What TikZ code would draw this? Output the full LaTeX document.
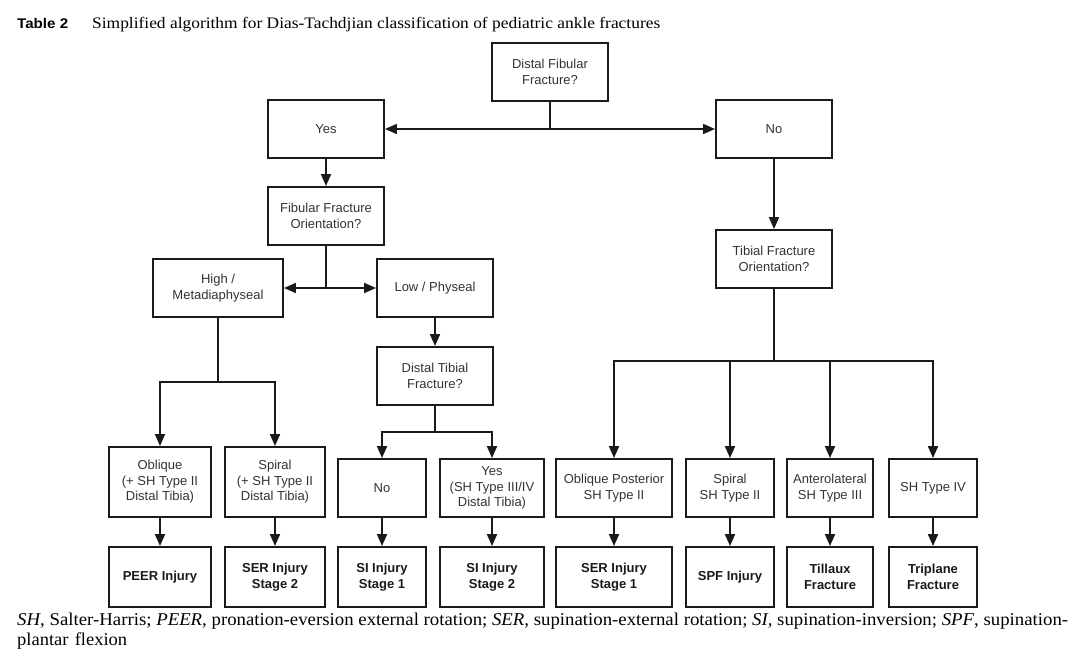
\documentclass[tikz,border=0pt]{standalone}
\usepackage{fontspec}
\usepackage{graphicx}
\setmainfont{Liberation Serif}
\setsansfont{Liberation Sans}
\usetikzlibrary{arrows.meta}
\definecolor{txt}{HTML}{333333}
\definecolor{ln}{HTML}{1A1A1A}
\tikzset{
  box/.style={draw=ln, line width=1.9pt, align=center, inner sep=2pt,
    text=txt, font=\sffamily\fontsize{13}{15.5}\selectfont},
  res/.style={box, font=\sffamily\bfseries\fontsize{13}{15.5}\selectfont, text=ln},
  conn/.style={draw=ln, line width=1.9pt},
  arr/.style={conn, -{Triangle[length=12pt,width=10pt]}},
}
\begin{document}
\begin{tikzpicture}[x=1pt,y=-1pt]
\useasboundingbox (0,0) rectangle (1076,656);
% header
\node[anchor=base west, inner sep=0] (tab) at (17,28)
  {\resizebox{51pt}{\height}{\sffamily\bfseries\fontsize{14}{16}\selectfont Table 2}};
\node[anchor=base west, inner sep=0] (title) at (92,28)
  {\resizebox{568pt}{\height}{\fontsize{16}{18}\selectfont Simplified algorithm for Dias-Tachdjian classification of pediatric ankle fractures}};
% level 1
\node[box, minimum width=116, minimum height=58] (dff) at (550,72) {Distal Fibular\\Fracture?};
\node[box, minimum width=116, minimum height=58] (yes) at (326,129) {Yes};
\node[box, minimum width=116, minimum height=58] (no) at (774,129) {No};
\node[box, minimum width=116, minimum height=58] (ffo) at (326,216) {Fibular Fracture\\Orientation?};
\node[box, minimum width=130, minimum height=58] (high) at (218,288) {High /\\Metadiaphyseal};
\node[box, minimum width=116, minimum height=58] (low) at (435,288) {Low / Physeal};
\node[box, minimum width=116, minimum height=58] (dtf) at (435,376) {Distal Tibial\\Fracture?};
\node[box, minimum width=116, minimum height=58] (tfo) at (774,259) {Tibial Fracture\\Orientation?};
% row 3
\node[box, minimum width=102, minimum height=70] (obl) at (160,482) {Oblique\\(+ SH Type II\\Distal Tibia)};
\node[box, minimum width=100, minimum height=70] (spi) at (275,482) {Spiral\\(+ SH Type II\\Distal Tibia)};
\node[box, minimum width=88, minimum height=58] (no2) at (382,488) {No};
\node[box, minimum width=104, minimum height=58] (yes2) at (492,488) {Yes\\(SH Type III/IV\\Distal Tibia)};
\node[box, minimum width=116, minimum height=58] (obp) at (614,488) {Oblique Posterior\\SH Type II};
\node[box, minimum width=88, minimum height=58] (spi2) at (730,488) {Spiral\\SH Type II};
\node[box, minimum width=86, minimum height=58] (ant) at (830,488) {Anterolateral\\SH Type III};
\node[box, minimum width=88, minimum height=58] (sh4) at (933,488) {SH Type IV};
% row 4
\node[res, minimum width=102, minimum height=60] (peer) at (160,577) {PEER Injury};
\node[res, minimum width=100, minimum height=60] (ser2) at (275,577) {SER Injury\\Stage 2};
\node[res, minimum width=88, minimum height=60] (si1) at (382,577) {SI Injury\\Stage 1};
\node[res, minimum width=104, minimum height=60] (si2) at (492,577) {SI Injury\\Stage 2};
\node[res, minimum width=116, minimum height=60] (ser1) at (614,577) {SER Injury\\Stage 1};
\node[res, minimum width=88, minimum height=60] (spf) at (730,577) {SPF Injury};
\node[res, minimum width=86, minimum height=60] (till) at (830,577) {Tillaux\\Fracture};
\node[res, minimum width=88, minimum height=60] (tri) at (933,577) {Triplane\\Fracture};
% junctions
\coordinate (j1) at (dff.south |- yes.east);
\coordinate (j2) at (ffo.south |- high.east);
\coordinate (j3) at (218,382);
\coordinate (j4) at (435,432);
\coordinate (j5) at (774,361);
% connectors
\draw[conn] (dff.south) -- (j1);
\draw[arr] (j1) -- (yes.east);
\draw[arr] (j1) -- (no.west);
\draw[arr] (yes.south) -- (ffo.north);
\draw[arr] (no.south) -- (tfo.north);
\draw[conn] (ffo.south) -- (j2);
\draw[arr] (j2) -- (high.east);
\draw[arr] (j2) -- (low.west);
\draw[arr] (low.south) -- (dtf.north);
\draw[conn] (high.south) -- (j3);
\draw[arr] (j3) -| (obl.north);
\draw[arr] (j3) -| (spi.north);
\draw[conn] (dtf.south) -- (j4);
\draw[arr] (j4) -| (no2.north);
\draw[arr] (j4) -| (yes2.north);
\draw[conn] (tfo.south) -- (j5);
\draw[arr] (j5) -| (obp.north);
\draw[arr] (j5) -| (spi2.north);
\draw[arr] (j5) -| (ant.north);
\draw[arr] (j5) -| (sh4.north);
\draw[arr] (obl.south) -- (peer.north);
\draw[arr] (spi.south) -- (ser2.north);
\draw[arr] (no2.south) -- (si1.north);
\draw[arr] (yes2.south) -- (si2.north);
\draw[arr] (obp.south) -- (ser1.north);
\draw[arr] (spi2.south) -- (spf.north);
\draw[arr] (ant.south) -- (till.north);
\draw[arr] (sh4.south) -- (tri.north);
% footer
\node[anchor=base west, inner sep=0] (foot1) at (17,625)
  {\resizebox{1051pt}{\height}{\fontsize{18}{20}\selectfont \textit{SH}, Salter-Harris; \textit{PEER}, pronation-eversion external rotation; \textit{SER}, supination-external rotation; \textit{SI}, supination-inversion; \textit{SPF}, supination-}};
\node[anchor=base west, inner sep=0] (foot2) at (17,645)
  {\resizebox{110pt}{\height}{\fontsize{18}{20}\selectfont plantar\hspace{6pt}flexion}};
\end{tikzpicture}
\end{document}
